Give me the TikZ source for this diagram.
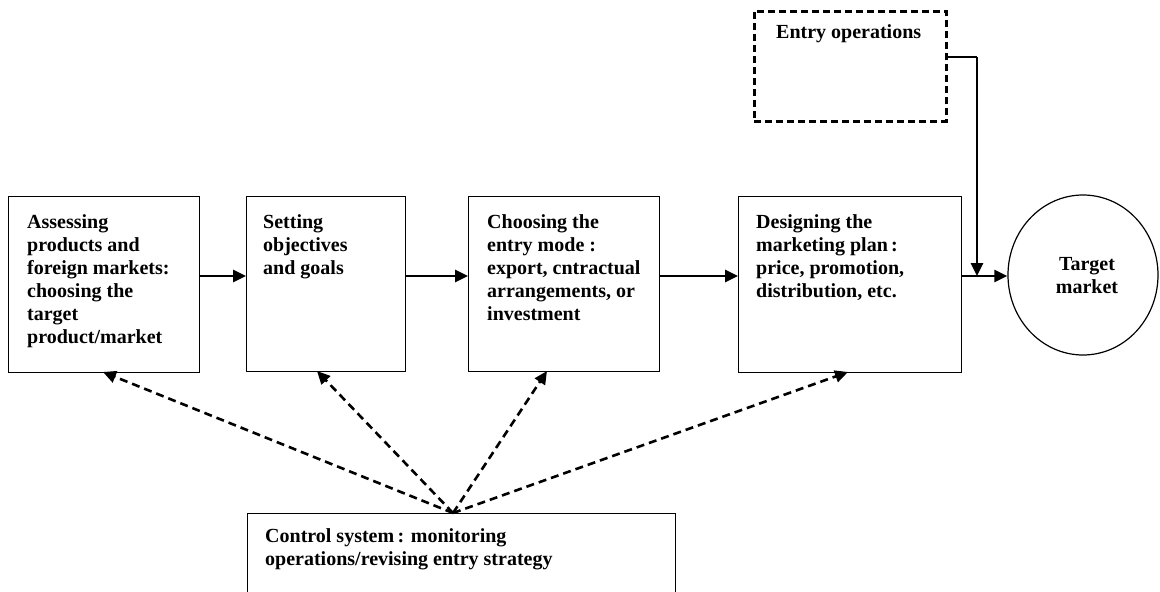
\documentclass[tikz,border=0pt]{standalone}
\usepackage{fontspec}
\setmainfont{Liberation Serif}
\usetikzlibrary{arrows.meta,shapes.geometric}
\begin{document}
\begin{tikzpicture}[x=1pt,y=-1pt,
  box/.style={draw,line width=1.2pt,anchor=north west,inner sep=0pt},
  txt/.style={anchor=north west,inner sep=0pt,align=left,font=\fontsize{20}{23}\selectfont\bfseries},
  flow/.style={line width=2.6pt,-{Triangle[length=13pt,width=12pt]}},
  ctrl/.style={line width=2.6pt,dash pattern=on 8pt off 5pt,-{Triangle[length=13pt,width=12pt]}}]
\clip (0,0) rectangle (1160,592);
\fill[white] (0,0) rectangle (1160,592);
% boxes
\node[box,minimum width=191pt,minimum height=176pt] (b1) at (8,196) {};
\node[box,minimum width=159pt,minimum height=175pt] (b2) at (246,196) {};
\node[box,minimum width=191pt,minimum height=175pt] (b3) at (468,196) {};
\node[box,minimum width=223pt,minimum height=176pt] (b4) at (738,196) {};
\node[draw,line width=1.2pt,ellipse,minimum width=150pt,minimum height=160pt,inner sep=0pt] (tm) at (1083,275) {};
\node[box,line width=2.6pt,dash pattern=on 7pt off 4pt,minimum width=192pt,minimum height=110pt] (eo) at (753,10) {};
\node[box,minimum width=428pt,minimum height=100pt] (cs) at (247,513) {};
% texts
\node[txt] (t1) at (27,214) {Assessing\\products and\\foreign markets:\\choosing the\\target\\product/market};
\node[txt] (t2) at (263,214) {Setting\\objectives\\and goals};
\node[txt] (t3) at (487,214) {Choosing the\\entry mode :\\export, cntractual\\arrangements, or\\investment};
\node[txt] (t4) at (756,214) {Designing the\\marketing plan\,:\\price, promotion,\\distribution, etc.};
\node[txt] (t5) at (776,24) {Entry operations};
\node[txt] (t6) at (265,528) {Control system\,: monitoring\\operations/revising entry strategy};
\node[txt,anchor=center,align=center] (t7) at (1087,276) {Target\\market};
% flow arrows
\coordinate (y0) at (0,276);
\draw[flow] (b1.east |- y0) -- (b2.west |- y0);
\draw[flow] (b2.east |- y0) -- (b3.west |- y0);
\draw[flow] (b3.east |- y0) -- (b4.west |- y0);
\draw[flow] (b4.east |- y0) -- (tm.west |- y0);
\coordinate (eoc) at (977,57);
\draw[line width=1.2pt] (eo.east |- eoc) -- (eoc);
\draw[flow] (eoc) -- (eoc |- y0);
% control arrows
\coordinate (cc) at (453,513);
\draw[ctrl] (cc) -- (103,372);
\draw[ctrl] (cc) -- (317,371);
\draw[ctrl] (cc) -- (547,371);
\draw[ctrl] (cc) -- (848,372);
\end{tikzpicture}
\end{document}
